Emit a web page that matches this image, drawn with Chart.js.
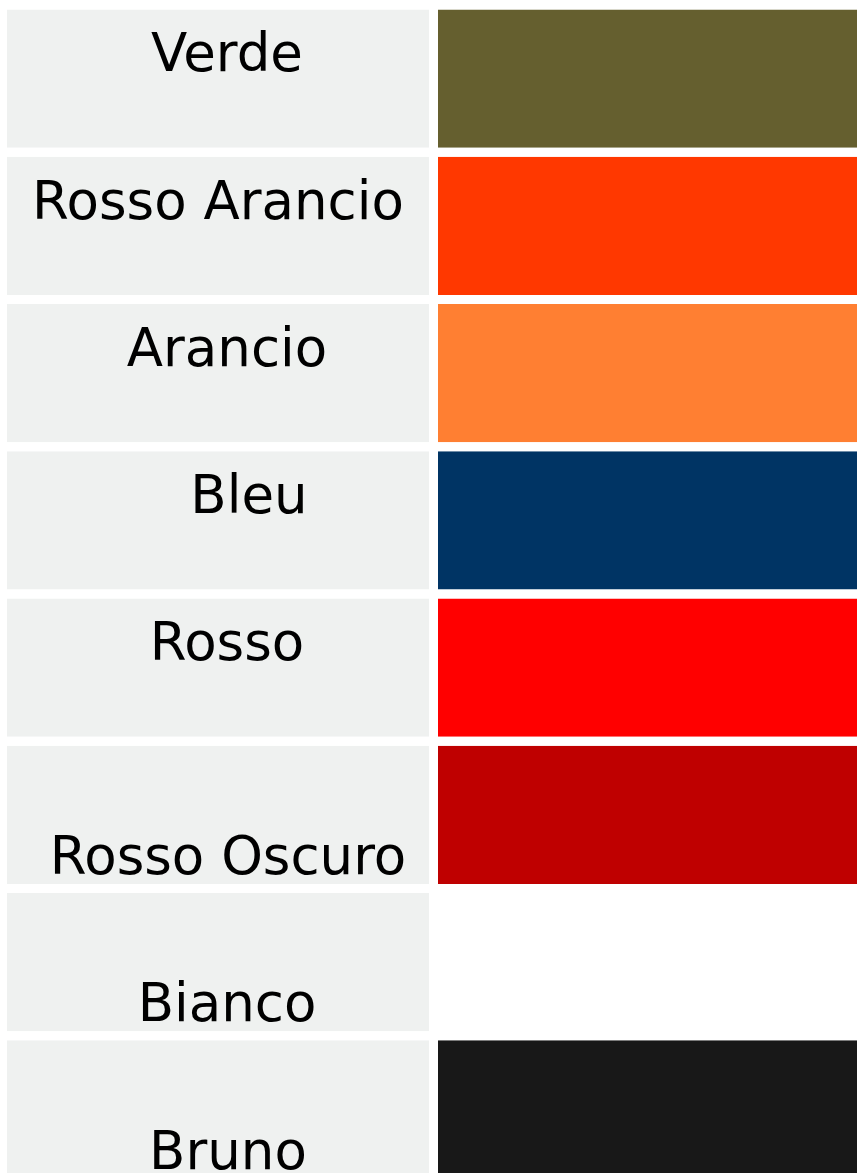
<!DOCTYPE html>
<html>
<head>
<meta charset="utf-8">
<script src="https://cdn.jsdelivr.net/npm/chart.js@4.4.1/dist/chart.umd.min.js"></script>
<style>
  html, body { margin: 0; padding: 0; background: #ffffff; overflow: hidden; }
  #wrap { width: 857px; height: 1173px; overflow: hidden; }
  canvas { display: block; }
</style>
</head>
<body>
<div id="wrap"><canvas id="c" width="857" height="1183"></canvas></div>
<script>
// ---- data ----
const categories = ['Verde', 'Rosso Arancio', 'Arancio', 'Bleu', 'Rosso', 'Rosso Oscuro', 'Bianco', 'Bruno'];
const nameCellValues = [1, 1, 1, 1, 1, 1, 1, 1];
const swatchValues = [1, 1, 1, 1, 1, 1, 1, 1];
const swatchColors = ['#655f2f', '#ff3800', '#ff7f32', '#003464', '#ff0000', '#bf0000', '#ffffff', '#181818'];

// ---- styles ----
const labelVAlign = ['top', 'top', 'top', 'top', 'top', 'bottom', 'bottom', 'bottom'];
const labelShift = [9, 0, 9, 31, 9, 10, 9, 10];
const cellGray = '#eff1f0';

const labelPlugin = {
  id: 'cellLabels',
  afterDatasetsDraw(chart) {
    const meta = chart.getDatasetMeta(0);
    const ctx = chart.ctx;
    ctx.save();
    ctx.font = '53px "DejaVu Sans"';
    ctx.fillStyle = '#000000';
    ctx.textAlign = 'center';
    ctx.textBaseline = 'alphabetic';
    meta.data.forEach((el, i) => {
      const p = el.getProps(['x', 'y', 'base', 'height'], true);
      const left = Math.min(p.x, p.base), right = Math.max(p.x, p.base);
      const cx = (left + right) / 2 - 1.5 + labelShift[i];
      const top = p.y - p.height / 2, bottom = p.y + p.height / 2;
      const y = labelVAlign[i] === 'top' ? top + 62 : bottom - 10;
      ctx.fillText(categories[i], cx, y);
    });
    ctx.restore();
  }
};

new Chart(document.getElementById('c'), {
  type: 'bar',
  data: {
    labels: categories,
    datasets: [
      {
        label: 'Nome',
        data: nameCellValues,
        backgroundColor: cellGray,
        borderColor: '#ffffff',
        borderWidth: { left: 0, right: 3, top: 0, bottom: 0 },
        borderSkipped: false,
        barPercentage: 1,
        categoryPercentage: 0.94
      },
      {
        label: 'Colore',
        data: swatchValues,
        backgroundColor: swatchColors,
        borderColor: '#ffffff',
        borderWidth: { left: 6, right: 0, top: 0, bottom: 0 },
        borderSkipped: false,
        barPercentage: 1,
        categoryPercentage: 0.94
      }
    ]
  },
  options: {
    indexAxis: 'y',
    responsive: false,
    devicePixelRatio: 1,
    animation: false,
    layout: { padding: { top: 5, left: 7, right: 0, bottom: 0 } },
    plugins: { legend: { display: false }, tooltip: { enabled: false } },
    scales: {
      x: { display: false, stacked: true, min: 0, max: 2 },
      y: { display: false, stacked: true }
    }
  },
  plugins: [labelPlugin]
});
</script>
</body>
</html>
